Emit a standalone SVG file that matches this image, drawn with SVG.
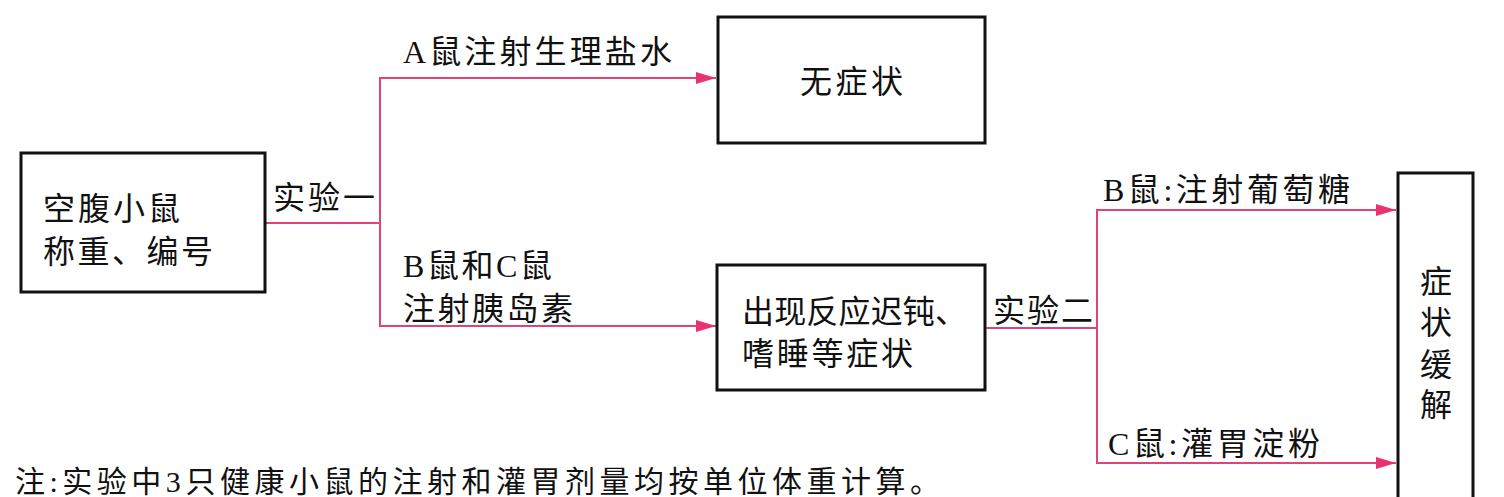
<svg xmlns="http://www.w3.org/2000/svg" width="1504" height="497" viewBox="0 0 1504 497">
<style>
.box{fill:#fff;stroke:#111;stroke-width:3}
.t{font-family:"Liberation Serif","Noto Sans CJK SC",serif;font-size:32px;fill:#111}
.n{font-size:30px}
.c{fill:none;stroke:#e2427c;stroke-width:2}
</style>
<defs>
<marker id="ah" markerWidth="20" markerHeight="12" refX="20" refY="6" orient="auto" markerUnits="userSpaceOnUse">
<path d="M0,0 L20,6 L0,12 Z" fill="#e8336f"/>
</marker>
</defs>
<rect width="1504" height="497" fill="#fff"/>
<g id="connectors">
<polyline class="c" points="265,223 380,223"/>
<polyline class="c" points="380,323 380,78 716,78" marker-end="url(#ah)"/>
<polyline class="c" points="380,223 380,326 716,326" marker-end="url(#ah)"/>
<polyline class="c" points="985,328 1097,328"/>
<polyline class="c" points="1097,328 1097,210 1396,210" marker-end="url(#ah)"/>
<polyline class="c" points="1097,328 1097,463 1396,463" marker-end="url(#ah)"/>
<text class="t" x="273" y="209" textLength="102">实验一</text>
<text class="t" x="403" y="63" textLength="269">A鼠注射生理盐水</text>
<text class="t" x="403" y="277" textLength="149">B鼠和C鼠</text>
<text class="t" x="403" y="320" textLength="170">注射胰岛素</text>
<text class="t" x="993" y="322" textLength="100">实验二</text>
<text class="t" x="1103" y="201" textLength="247">B鼠:注射葡萄糖</text>
<text class="t" x="1108" y="455" textLength="212">C鼠:灌胃淀粉</text>
</g>
<g id="n1">
<rect class="box" x="21" y="153" width="244" height="139"/>
<text class="t" x="43" y="220" textLength="137">空腹小鼠</text>
<text class="t" x="43" y="263" textLength="170">称重、编号</text>
</g>
<g id="n2">
<rect class="box" x="718" y="17" width="267" height="126"/>
<text class="t" x="800" y="93" textLength="103">无症状</text>
</g>
<g id="n3">
<rect class="box" x="717" y="265" width="268" height="125"/>
<text class="t" x="742" y="323" textLength="225">出现反应迟钝、</text>
<text class="t" x="742" y="365" textLength="171">嗜睡等症状</text>
</g>
<g id="n4">
<rect class="box" x="1398" y="173" width="75" height="340"/>
<text class="t" x="1436" text-anchor="middle" y="293">症</text>
<text class="t" x="1436" text-anchor="middle" y="334">状</text>
<text class="t" x="1436" text-anchor="middle" y="376">缓</text>
<text class="t" x="1436" text-anchor="middle" y="416">解</text>
</g>
<text class="t n" x="15" y="492" textLength="925">注:实验中3只健康小鼠的注射和灌胃剂量均按单位体重计算。</text>
</svg>
